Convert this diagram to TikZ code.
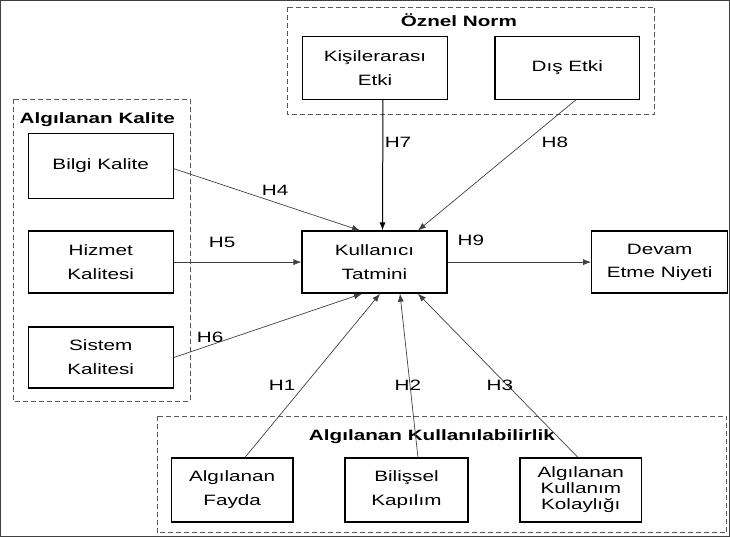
\documentclass[tikz,border=0pt]{standalone}
\usepackage{fontspec}
\setmainfont{Liberation Sans}[FakeStretch=1.38]
\usetikzlibrary{arrows.meta}
\usetikzlibrary{positioning}

\begin{document}
\begin{tikzpicture}
[
	x = 1pt, y = -1pt,
	box/.style	= {rectangle, draw = black, line width = 1.3pt, minimum width = 145pt, minimum height = 62pt, align = center, inner sep = 0pt, font = \fontsize{15}{24}\selectfont},
	smallbox/.style	= {box, minimum width = 122pt, minimum height = 64pt},
	group/.style	= {draw = black!65, dash pattern = on 5pt off 3pt, line width = 0.8pt},
	title/.style	= {font = \fontsize{15}{18}\selectfont\bfseries},
	hyp/.style	= {font = \fontsize{15}{18}\selectfont},
	every path/.style = {-{Latex[length=8pt, width=6pt]}, draw = black!75, line width = 0.7pt},
]
	\useasboundingbox (0,0) rectangle (730,537);

	% groups
	\draw [group, -] (287,7) rectangle (655,114);
	\draw [group, -] (13,99) rectangle (190,401);
	\draw [group, -] (157,416) rectangle (727,533);
	\node (normT) [title] at (459,20) {Öznel Norm};
	\node (kaliteT) [title] at (97,119) {Algılanan Kalite};
	\node (kullT) [title] at (432,437) {Algılanan Kullanılabilirlik};

	% constructs
	\node (tatmin) [box] at (374.5,262) {Kullanıcı\\Tatmini};
	\node (niyet) [box, minimum width = 136pt, font = \fontsize{15}{23}\selectfont] at (660,262) {Devam\\Etme Niyeti};
	%
	\node (kisi) [box, minimum height = 63pt] at (375,67.5) {Kişilerarası\\Etki};
	\node (dis) [box, minimum height = 63pt] at (567.5,67.5) {Dış Etki};
	%
	\node (bilgi) [box, minimum height = 65pt] at (100.5,165.5) {Bilgi Kalite};
	\node (hizmet) [box] at (100.5,262) {Hizmet\\Kalitesi};
	\node (sistem) [box, minimum height = 61pt] at (100.5,357.5) {Sistem\\Kalitesi};
	%
	\node (fayda) [smallbox] at (232,490) {Algılanan\\Fayda};
	\node (bilis) [smallbox, minimum width = 123pt] at (406.5,490) {Bilişsel\\Kapılım};
	\node (kolay) [smallbox, font = \fontsize{15}{16}\selectfont] at (581,490) {Algılanan\\Kullanım\\Kolaylığı};

	% paths
	\draw ([yshift=-3pt]bilgi.east) -- ([xshift=-14.5pt]tatmin.north);
	\draw [draw = black, line width = 1pt] ([xshift=8pt]kisi.south) -- ([xshift=8pt]tatmin.north);
	\draw ([xshift=8.5pt]dis.south) -- ([xshift=43.5pt]tatmin.north);
	\draw (hizmet) -- (tatmin);
	\draw (tatmin) -- (niyet);
	\draw (sistem.east) -- ([xshift=-12.5pt]tatmin.south);
	%
	\draw ([xshift=13pt]fayda.north) -- ([xshift=5.5pt]tatmin.south);
	\draw ([xshift=11.5pt]bilis.north) -- ([xshift=25.5pt]tatmin.south);
	\draw ([xshift=-3pt]kolay.north) -- ([xshift=43.5pt]tatmin.south);

	% labels
	\node (h1) [hyp] at (282,385) {H1};
	\node (h2) [hyp] at (408,385) {H2};
	\node (h3) [hyp] at (500,385) {H3};
	\node (h4) [hyp] at (275,190) {H4};
	\node (h5) [hyp] at (222,242) {H5};
	\node (h6) [hyp] at (210,337) {H6};
	\node (h7) [hyp] at (398,142) {H7};
	\node (h8) [hyp] at (555,142) {H8};
	\node (h9) [hyp] at (471,240) {H9};

\end{tikzpicture}
\end{document}
